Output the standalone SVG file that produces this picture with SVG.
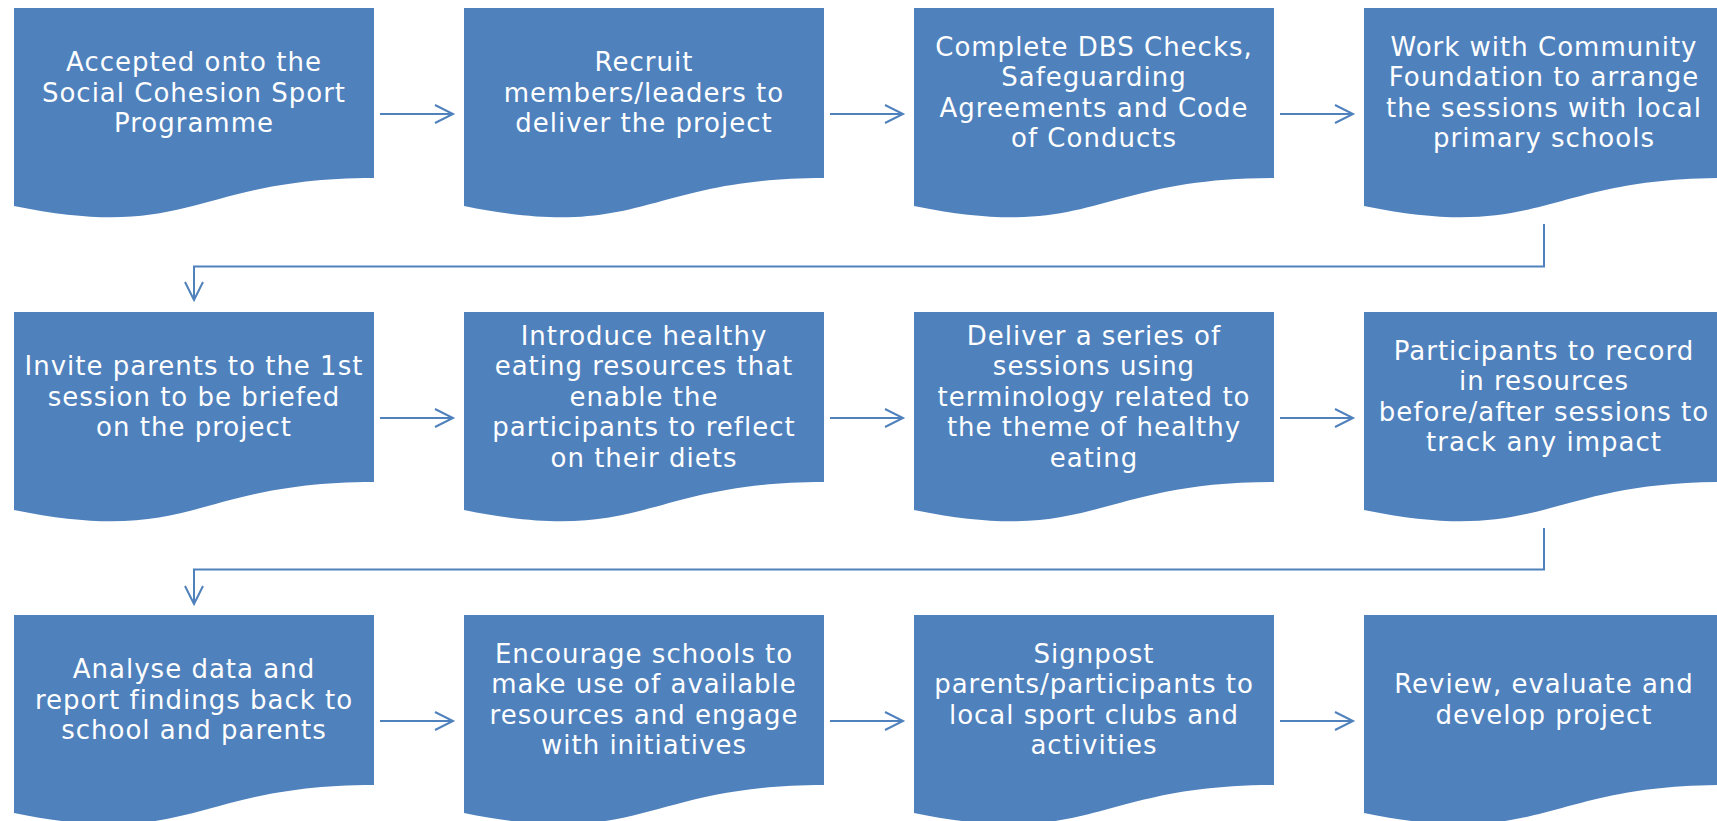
<svg xmlns="http://www.w3.org/2000/svg" width="1717" height="821" viewBox="0 0 1717 821">
<style>
.node{fill:#4F81BD}
.t{font-family:"DejaVu Sans","Liberation Sans",sans-serif;font-size:26px;fill:#FFFFFF;text-anchor:middle;letter-spacing:1px}
.c{fill:none;stroke:#4F81BD;stroke-width:2}
</style>
<defs>
<path id="doc" d="M0,0 H360 V170 C180,170 180,234.8 0,198 Z"/>
<marker id="ah" markerUnits="userSpaceOnUse" markerWidth="24" markerHeight="24" viewBox="-2 -2 24 24" refX="18" refY="9" orient="auto">
<path d="M0,0 L18,9 L0,18" fill="none" stroke="#4F81BD" stroke-width="2"/>
</marker>
</defs>
<rect width="1717" height="821" fill="#FFFFFF"/>
<g id="connectors">
<path class="c" marker-end="url(#ah)" d="M380,114 H453"/>
<path class="c" marker-end="url(#ah)" d="M830,114 H903"/>
<path class="c" marker-end="url(#ah)" d="M1280,114 H1353"/>
<path class="c" marker-end="url(#ah)" d="M1544,224 V266.5 H194 V300"/>
<path class="c" marker-end="url(#ah)" d="M380,418 H453"/>
<path class="c" marker-end="url(#ah)" d="M830,418 H903"/>
<path class="c" marker-end="url(#ah)" d="M1280,418 H1353"/>
<path class="c" marker-end="url(#ah)" d="M1544,528 V569.5 H194 V604"/>
<path class="c" marker-end="url(#ah)" d="M380,721 H453"/>
<path class="c" marker-end="url(#ah)" d="M830,721 H903"/>
<path class="c" marker-end="url(#ah)" d="M1280,721 H1353"/>
</g>
<g id="n1"><use href="#doc" class="node" x="14" y="8"/>
<text class="t" x="194"><tspan x="194" y="71">Accepted onto the</tspan><tspan x="194" y="102">Social Cohesion Sport</tspan><tspan x="194" y="132">Programme</tspan></text></g>
<g id="n2"><use href="#doc" class="node" x="464" y="8"/>
<text class="t"><tspan x="644" y="71">Recruit</tspan><tspan x="644" y="102">members/leaders to</tspan><tspan x="644" y="132">deliver the project</tspan></text></g>
<g id="n3"><use href="#doc" class="node" x="914" y="8"/>
<text class="t"><tspan x="1094" y="56">Complete DBS Checks,</tspan><tspan x="1094" y="86">Safeguarding</tspan><tspan x="1094" y="117">Agreements and Code</tspan><tspan x="1094" y="147">of Conducts</tspan></text></g>
<g id="n4"><use href="#doc" class="node" x="1364" y="8"/>
<text class="t"><tspan x="1544" y="56">Work with Community</tspan><tspan x="1544" y="86">Foundation to arrange</tspan><tspan x="1544" y="117">the sessions with local</tspan><tspan x="1544" y="147">primary schools</tspan></text></g>
<g id="n5"><use href="#doc" class="node" x="14" y="312"/>
<text class="t"><tspan x="194" y="375">Invite parents to the 1st</tspan><tspan x="194" y="406">session to be briefed</tspan><tspan x="194" y="436">on the project</tspan></text></g>
<g id="n6"><use href="#doc" class="node" x="464" y="312"/>
<text class="t"><tspan x="644" y="345">Introduce healthy</tspan><tspan x="644" y="375">eating resources that</tspan><tspan x="644" y="406">enable the</tspan><tspan x="644" y="436">participants to reflect</tspan><tspan x="644" y="467">on their diets</tspan></text></g>
<g id="n7"><use href="#doc" class="node" x="914" y="312"/>
<text class="t"><tspan x="1094" y="345">Deliver a series of</tspan><tspan x="1094" y="375">sessions using</tspan><tspan x="1094" y="406">terminology related to</tspan><tspan x="1094" y="436">the theme of healthy</tspan><tspan x="1094" y="467">eating</tspan></text></g>
<g id="n8"><use href="#doc" class="node" x="1364" y="312"/>
<text class="t"><tspan x="1544" y="360">Participants to record</tspan><tspan x="1544" y="390">in resources</tspan><tspan x="1544" y="421">before/after sessions to</tspan><tspan x="1544" y="451">track any impact</tspan></text></g>
<g id="n9"><use href="#doc" class="node" x="14" y="615"/>
<text class="t"><tspan x="194" y="678">Analyse data and</tspan><tspan x="194" y="709">report findings back to</tspan><tspan x="194" y="739">school and parents</tspan></text></g>
<g id="n10"><use href="#doc" class="node" x="464" y="615"/>
<text class="t"><tspan x="644" y="663">Encourage schools to</tspan><tspan x="644" y="693">make use of available</tspan><tspan x="644" y="724">resources and engage</tspan><tspan x="644" y="754">with initiatives</tspan></text></g>
<g id="n11"><use href="#doc" class="node" x="914" y="615"/>
<text class="t"><tspan x="1094" y="663">Signpost</tspan><tspan x="1094" y="693">parents/participants to</tspan><tspan x="1094" y="724">local sport clubs and</tspan><tspan x="1094" y="754">activities</tspan></text></g>
<g id="n12"><use href="#doc" class="node" x="1364" y="615"/>
<text class="t"><tspan x="1544" y="693">Review, evaluate and</tspan><tspan x="1544" y="724">develop project</tspan></text></g>
</svg>
